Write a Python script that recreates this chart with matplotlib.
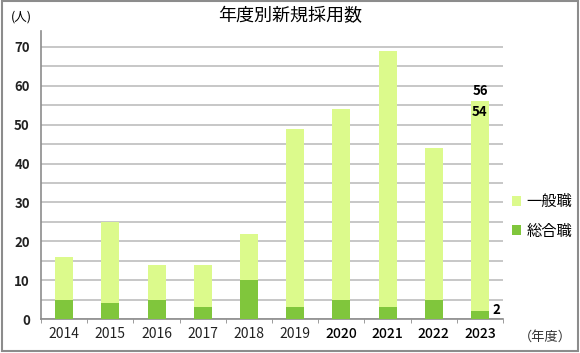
import matplotlib
matplotlib.use("Agg")
import matplotlib.pyplot as plt
from matplotlib.patches import Rectangle
import numpy as np

plt.rcParams['font.family'] = ['Noto Sans CJK JP', 'DejaVu Sans']

years = ['2014', '2015', '2016', '2017', '2018', '2019', '2020', '2021', '2022', '2023']
sogo = [5, 4, 5, 3, 10, 3, 5, 3, 5, 2]          # 総合職
ippan = [11, 21, 9, 11, 12, 46, 49, 66, 39, 54]  # 一般職
title = '年度別新規採用数'
yticks = [0, 10, 20, 30, 40, 50, 60, 70]

light = '#dcfa8c'
dark = '#80c63c'

fig = plt.figure(figsize=(5.8, 3.53), dpi=100)
fig.patch.set_facecolor('white')
fig.add_artist(Rectangle((0.003, 0.006), 0.994, 0.99, transform=fig.transFigure,
                         fill=False, edgecolor='#8c8c8c', linewidth=1.5))

ax = fig.add_axes([0.0707, 0.0963, 0.7966, 0.8157])
x = np.arange(len(years))
w = 0.39
ax.bar(x, sogo, width=w, color=dark, zorder=3, label='総合職')
ax.bar(x, ippan, width=w, bottom=sogo, color=light, zorder=3, label='一般職')

ax.set_xlim(-0.5, len(years) - 0.5)
ax.set_ylim(0, 74.1)
ax.set_yticks(yticks)
ax.set_yticks(np.arange(5, 75, 10), minor=True)
ax.set_yticklabels([str(v) for v in yticks], fontsize=9.5, fontweight='bold', color='#222222')
ax.tick_params(axis='y', which='both', length=0, pad=8)
ax.grid(axis='y', which='both', color='#bdbdbd', linewidth=1.2, zorder=0)

ax.set_xticks(x)
ax.set_xticklabels(years, fontsize=10, color='#222222')
for lbl in ax.get_xticklabels()[6:]:
    lbl.set_fontweight('medium')
    lbl.set_color('#000000')
ax.tick_params(axis='x', which='major', length=0, pad=6)
ax.set_xticks(np.arange(-0.5, len(years), 1), minor=True)
ax.tick_params(axis='x', which='minor', length=3, color='#8c8c8c')

for s in ['top', 'right']:
    ax.spines[s].set_visible(False)
ax.spines['left'].set_color('#8c8c8c')
ax.spines['left'].set_linewidth(1.2)
ax.spines['bottom'].set_color('#8c8c8c')
ax.spines['bottom'].set_linewidth(1.2)

# annotations for 2023
i = len(years) - 1
tot = sogo[i] + ippan[i]
ax.text(x[i], tot + 1.0, str(tot), ha='center', va='bottom', fontsize=9.5, fontweight='bold')
ax.text(x[i], tot - 1.0, str(ippan[i]), ha='center', va='top', fontsize=9.5, fontweight='bold')
ax.text(x[i] + w / 2 + 0.08, sogo[i] + 0.3, str(sogo[i]), ha='left', va='center', fontsize=9.5, fontweight='bold')

fig.text(0.5, 0.955, title, ha='center', va='center', fontsize=13)
fig.text(0.037, 0.952, '(人)', ha='center', va='center', fontsize=9)
fig.text(0.94, 0.045, '（年度）', ha='center', va='center', fontsize=9.5, color='#333333')

handles, labels = ax.get_legend_handles_labels()
leg = fig.legend(handles[::-1], labels[::-1], loc='center left', bbox_to_anchor=(0.883, 0.387),
                 frameon=False, fontsize=11, handlelength=0.6, handleheight=0.6,
                 handletextpad=0.35, labelspacing=0.8, borderpad=0, borderaxespad=0)

fig.savefig('out.png', dpi=100)
